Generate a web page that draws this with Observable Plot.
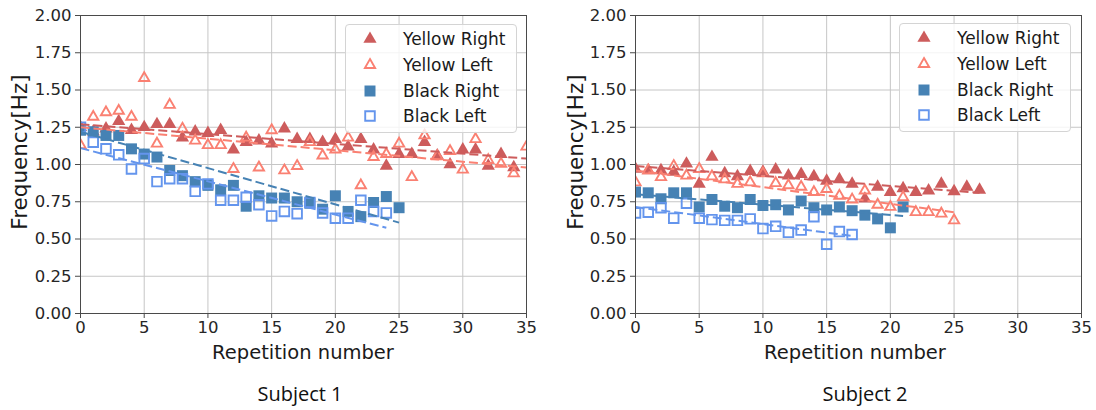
<!DOCTYPE html>
<html>
<head>
<meta charset="utf-8">
<script src="https://cdn.jsdelivr.net/npm/d3@7"></script>
<script src="https://cdn.jsdelivr.net/npm/@observablehq/plot@0.6"></script>
<style>
  html, body { margin: 0; padding: 0; background: #fff; }
  #fig { position: relative; width: 1096px; height: 410px; overflow: hidden;
         font-family: "DejaVu Sans", sans-serif; color: #1a1a1a; }
  .panel { position: absolute; top: 0; }
  .lbl { position: absolute; white-space: nowrap; transform: translate(-50%, -50%); }
  .xlabel { font-size: 19.5px; }
  .ylabel { font-size: 21.5px; transform: translate(-50%, -50%) rotate(-90deg); }
  .caption { font-family: "Open Sans", sans-serif; font-size: 20px; color: #111; }
  .legend { position: absolute; width: 172px; height: 109px; box-sizing: border-box;
            background: rgba(255,255,255,0.8); border: 1px solid #d4d4d4; border-radius: 4px; }
  .legend .row { position: absolute; left: 0; height: 26px; display: flex; align-items: center;
                 font-size: 17px; }
  .legend svg { position: absolute; left: 14px; top: 3px; }
  .legend span { position: absolute; left: 57px; white-space: nowrap; }
</style>
</head>
<body>
<div id="fig"></div>
<script>
// Repetition-by-repetition frequency, index = repetition number
const seriesNames = ["Yellow Right", "Yellow Left", "Black Right", "Black Left"];
const seriesColors = ["#cd5c5c", "#fa8072", "#4682b4", "#6495ed"];
const seriesSymbols = ["triangle", "triangle", "square", "square"];
const seriesFilled = [true, false, true, false];

const xTicks = [0, 5, 10, 15, 20, 25, 30, 35];
const yTicks = [0, 0.25, 0.5, 0.75, 1.0, 1.25, 1.5, 1.75, 2.0];

// Subject 1
const s1YellowRight = [1.25, 1.22, 1.24, 1.29, 1.23, 1.25, 1.27, 1.27, 1.18, 1.22, 1.21, 1.23,
  1.10, 1.15, 1.16, 1.14, 1.24, 1.17, 1.17, 1.15, 1.17, 1.12, 1.17, 1.10, 0.99, 1.07, 1.07,
  1.15, 1.06, 1.00, 1.10, 1.10, 0.99, 1.07, 0.98];
const s1YellowLeft = [1.13, 1.32, 1.35, 1.36, 1.32, 1.58, 1.14, 1.40, 1.24, 1.16, 1.13, 1.13,
  0.97, 1.18, 0.98, 1.23, 0.96, 0.99, 1.15, 1.06, 1.10, 1.18, 0.86, 1.05, 1.07, 1.14, 0.915,
  1.195, 1.055, 1.09, 0.965, 1.17, 1.03, 1.005, 0.94, 1.12];
const s1BlackRight = [1.23, 1.22, 1.195, 1.195, 1.105, 1.07, 1.05, 0.96, 0.925, 0.885, 0.86,
  0.83, 0.86, 0.72, 0.79, 0.775, 0.775, 0.75, 0.74, 0.70, 0.79, 0.685, 0.65, 0.745, 0.785, 0.71];
const s1BlackLeft = [1.25, 1.15, 1.105, 1.065, 0.97, 1.04, 0.885, 0.905, 0.905, 0.82, 0.87,
  0.76, 0.76, 0.78, 0.73, 0.655, 0.685, 0.67, 0.745, 0.675, 0.64, 0.64, 0.76, 0.685, 0.675];

// Subject 2
const s2YellowRight = [0.97, 0.96, 0.96, 0.95, 1.005, 0.87, 1.05, 0.94, 0.92, 0.955, 0.95,
  0.965, 0.925, 0.935, 0.92, 0.89, 0.90, 0.87, 0.77, 0.85, 0.815, 0.84, 0.815, 0.825, 0.87,
  0.82, 0.85, 0.83];
const s2YellowLeft = [0.88, 0.96, 0.915, 0.99, 0.925, 0.97, 0.92, 0.90, 0.87, 0.88, 0.94,
  0.875, 0.86, 0.85, 0.815, 0.835, 0.79, 0.765, 0.825, 0.73, 0.715, 0.78, 0.68, 0.68, 0.67, 0.625];
const s2BlackRight = [0.815, 0.81, 0.77, 0.81, 0.81, 0.715, 0.765, 0.72, 0.71, 0.765, 0.725,
  0.73, 0.695, 0.755, 0.71, 0.695, 0.715, 0.69, 0.66, 0.635, 0.575, 0.715];
const s2BlackLeft = [0.675, 0.68, 0.71, 0.64, 0.74, 0.64, 0.63, 0.625, 0.625, 0.635, 0.57,
  0.585, 0.545, 0.56, 0.65, 0.465, 0.55, 0.53];

// Fitted trend lines per series: value at first and last repetition
const s1TrendFirstX = [0, 0, 0, 0];
const s1TrendLastX = [35, 35, 25, 24];
const s1TrendStart = [1.27, 1.25, 1.22, 1.11];
const s1TrendEnd = [1.04, 0.98, 0.61, 0.575];

const s2TrendFirstX = [0, 0, 0, 0];
const s2TrendLastX = [27, 25, 21, 17];
const s2TrendStart = [0.99, 0.96, 0.80, 0.715];
const s2TrendEnd = [0.81, 0.68, 0.655, 0.52];

const subjectLabels = ["Subject 1", "Subject 2"];

const dotSize = { "triangle-true": 4.9, "triangle-false": 3.8, "square-true": 6.2, "square-false": 5.4 };

function panel(seriesValues, firstX, lastX, start, end, marginLeft, marginRight) {
  const marks = [
    Plot.gridX({ ticks: xTicks, stroke: "#c6c6c6", strokeOpacity: 1, strokeWidth: 1 }),
    Plot.gridY({ ticks: yTicks, stroke: "#c6c6c6", strokeOpacity: 1, strokeWidth: 1 })
  ];
  seriesValues.forEach((vals, k) => {
    const rows = vals.map((v, i) => ({ rep: i, freq: v }));
    const filled = seriesFilled[k];
    marks.push(Plot.dot(rows, {
      x: "rep", y: "freq",
      symbol: seriesSymbols[k],
      r: dotSize[seriesSymbols[k] + "-" + filled],
      fill: filled ? seriesColors[k] : "none",
      stroke: filled ? "none" : seriesColors[k],
      strokeWidth: 1.9,
      clip: true
    }));
  });
  seriesNames.forEach((name, k) => {
    marks.push(Plot.link([{ x1: firstX[k], y1: start[k], x2: lastX[k], y2: end[k] }], {
      x1: "x1", y1: "y1", x2: "x2", y2: "y2",
      stroke: seriesColors[k], strokeWidth: 2, strokeDasharray: "9,4", clip: true
    }));
  });
  marks.push(
    Plot.frame({ stroke: "#4a4a4a", strokeWidth: 1 }),
    Plot.axisX({ ticks: xTicks, tickSize: 5, tickPadding: 3, label: null, stroke: "#4a4a4a" }),
    Plot.axisY({ ticks: yTicks, tickFormat: d3.format(".2f"), tickSize: 5, tickPadding: 4, label: null, stroke: "#4a4a4a" })
  );
  return Plot.plot({
    width: 548, height: 370,
    marginLeft, marginRight, marginTop: 15, marginBottom: 57,
    x: { domain: [0, 35] },
    y: { domain: [0, 2] },
    style: { fontSize: "16.5px", fontFamily: "DejaVu Sans", color: "#262626", background: "transparent", overflow: "visible" },
    marks
  });
}

const fig = document.getElementById("fig");

function addText(cls, text, left, top) {
  const d = document.createElement("div");
  d.className = "lbl " + cls;
  d.textContent = text;
  d.style.left = left + "px";
  d.style.top = top + "px";
  fig.appendChild(d);
}

function addLegend(left, top) {
  const box = document.createElement("div");
  box.className = "legend";
  box.style.left = left + "px";
  box.style.top = top + "px";
  seriesNames.forEach((name, k) => {
    const row = document.createElement("div");
    row.className = "row";
    row.style.top = (1 + k * 25.8) + "px";
    row.style.width = "170px";
    const svg = d3.create("svg").attr("width", 20).attr("height", 20);
    const filled = seriesFilled[k];
    const r = dotSize[seriesSymbols[k] + "-" + filled];
    const sym = seriesSymbols[k] === "triangle" ? d3.symbolTriangle : d3.symbolSquare;
    svg.append("path")
      .attr("transform", "translate(10,10)")
      .attr("d", d3.symbol(sym, Math.PI * r * r)())
      .attr("fill", filled ? seriesColors[k] : "none")
      .attr("stroke", filled ? "none" : seriesColors[k])
      .attr("stroke-width", 1.9);
    row.appendChild(svg.node());
    const span = document.createElement("span");
    span.textContent = name;
    row.appendChild(span);
    box.appendChild(row);
  });
  fig.appendChild(box);
}

const p1 = panel([s1YellowRight, s1YellowLeft, s1BlackRight, s1BlackLeft],
  s1TrendFirstX, s1TrendLastX, s1TrendStart, s1TrendEnd, 80, 22);
p1.classList.add("panel");
p1.style.left = "0px";
fig.appendChild(p1);

const p2 = panel([s2YellowRight, s2YellowLeft, s2BlackRight, s2BlackLeft],
  s2TrendFirstX, s2TrendLastX, s2TrendStart, s2TrendEnd, 87, 15);
p2.classList.add("panel");
p2.style.left = "548px";
fig.appendChild(p2);

addText("ylabel", "Frequency[Hz]", 19, 152);
addText("ylabel", "Frequency[Hz]", 575, 152);
addText("xlabel", "Repetition number", 303, 352);
addText("xlabel", "Repetition number", 855, 352);
addText("caption", subjectLabels[0], 300, 393);
addText("caption", subjectLabels[1], 865, 393);

addLegend(345, 24);
addLegend(899, 23);
</script>
</body>
</html>
